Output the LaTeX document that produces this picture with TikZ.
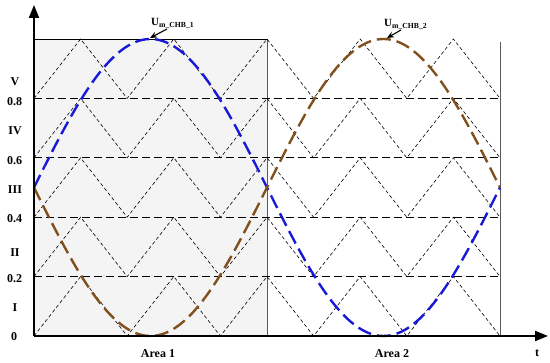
\documentclass[tikz,border=0pt]{standalone}
\usepackage{fontspec}
\setmainfont{Liberation Serif}
\usetikzlibrary{arrows.meta}
\definecolor{wblue}{RGB}{25,25,215}
\definecolor{wbrown}{RGB}{130,80,28}
\definecolor{areagray}{RGB}{244,244,244}
\definecolor{edgegray}{RGB}{90,90,90}
\tikzset{
  carrier/.style={black, line width=0.6pt, dash pattern=on 3.5pt off 2.5pt},
  levelline/.style={black, line width=1.3pt, dash pattern=on 8pt off 4pt},
  axisline/.style={black, line width=2pt, -{Triangle[length=13pt,width=10pt]}},
  sinecurve/.style={line width=2.4pt, dash pattern=on 14pt off 6pt},
  lvl/.style={font=\bfseries\fontsize{12}{13}\selectfont, inner sep=0pt},
  ulabel/.style={font=\bfseries\fontsize{11}{12}\selectfont, inner sep=0pt},
  uarrow/.style={black, line width=1.1pt, -{Stealth[length=7pt,width=6pt]}},
  arealabel/.style={font=\bfseries\fontsize{12}{13}\selectfont, inner sep=0pt}
}
\begin{document}
\begin{tikzpicture}[x=1pt,y=1pt]
\useasboundingbox (0,0) rectangle (550,363);
% shaded area 1
\fill[areagray] (34,27) rectangle (267,324);
\draw[black, line width=0.6pt] (34,324) -- (267,324);
\draw[edgegray, line width=1pt] (267,27) -- (267,324);
\draw[edgegray, line width=1pt] (500,27) -- (500,321);
% carriers
\foreach \k in {0,...,4} {
  \draw[carrier] (34,{27+59.4*\k})
    \foreach \j in {1,...,10} { -- ({34+46.6*\j},{27+59.4*(\k+mod(\j,2))}) };
}
% level lines
\foreach \k in {1,...,4} {
  \draw[levelline] (34,{27+59.4*\k}) -- (500,{27+59.4*\k});
}
% reference waves
\draw[wblue, sinecurve] plot[domain=0:360, samples=160, smooth] ({34+1.294444*\x},{175.5+148.5*sin(\x)});
\draw[wbrown, sinecurve] plot[domain=0:360, samples=160, smooth] ({34+1.294444*\x},{175.5-148.5*sin(\x)});
% axes
\coordinate (O) at (34,27);
\coordinate (ytip) at (34,358);
\coordinate (xtip) at (548,27);
\draw[axisline] (O) -- (ytip);
\draw[axisline] (O) -- (xtip);
% level labels
\node[lvl] (lV) at (15,281) {V};
\node[lvl] (l08) at (14.5,261.5) {0.8};
\node[lvl] (lIV) at (15,232) {IV};
\node[lvl] (l06) at (14.5,202) {0.6};
\node[lvl] (lIII) at (15,173) {III};
\node[lvl] (l04) at (14.5,144) {0.4};
\node[lvl] (lII) at (15,110) {II};
\node[lvl] (l02) at (14.5,84) {0.2};
\node[lvl] (lI) at (15,55) {I};
\node[lvl] (l0) at (14,26) {0};
% area labels
\node[arealabel] (a1) at (158,9) {Area 1};
\node[arealabel] (a2) at (392,9) {Area 2};
\node[arealabel] (tl) at (537,10) {t};
% wave labels
\node[ulabel, anchor=west] (u1) at (151,339.5) {U\textsubscript{m\_CHB\_1}};
\node[ulabel, anchor=west] (u2) at (384,338.5) {U\textsubscript{m\_CHB\_2}};
\coordinate (u1s) at (167,334);
\coordinate (p1) at (150,325);
\coordinate (u2s) at (401,333);
\coordinate (p2) at (387,325);
\draw[uarrow] (u1s) -- (p1);
\draw[uarrow] (u2s) -- (p2);
\end{tikzpicture}
\end{document}
